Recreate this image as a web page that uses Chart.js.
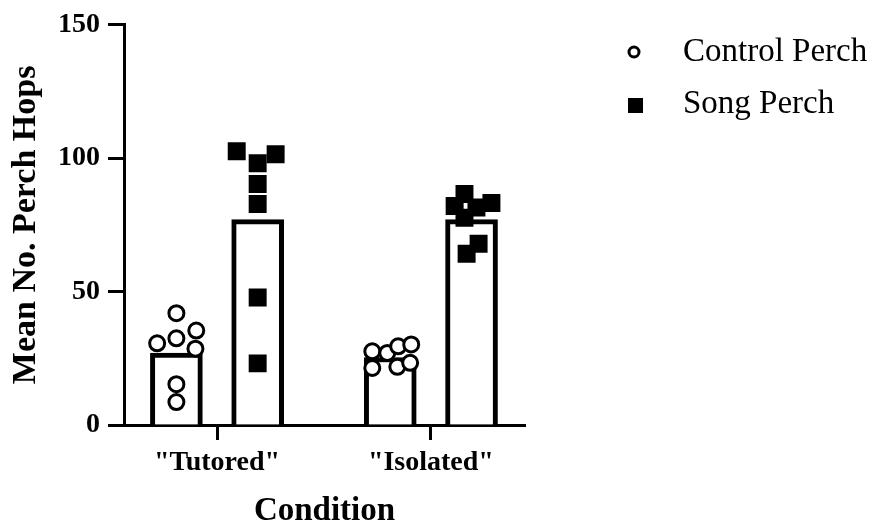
<!DOCTYPE html>
<html>
<head>
<meta charset="utf-8">
<title>Perch Hops</title>
<script src="https://cdn.jsdelivr.net/npm/chart.js@4.4.1/dist/chart.umd.min.js"></script>
<style>
  html, body { margin: 0; padding: 0; background: #fff; }
  #wrap { width: 880px; height: 523px; }
</style>
</head>
<body>
<div id="wrap"><canvas id="grafico"></canvas></div>
<script>
const categories = ['"Tutored"', '"Isolated"'];
const seriesNames = ["Control Perch", "Song Perch"];
const yTicks = [0, 50, 100, 150];

// alturas de las barras (medias)
const controlMeans = [27, 25.3];
const songMeans = [77, 77];

// valores individuales
const tutoredControl = [41.9, 30.6, 32.5, 35.4, 28.6, 15.3, 8.6];
const tutoredSong = [102.6, 98.1, 101.5, 90.3, 82.8, 47.8, 23.1];
const isolatedControl = [27.6, 27.0, 29.5, 30.2, 21.4, 21.8, 23.3];
const isolatedSong = [86.6, 82.1, 81.5, 83.2, 77.7, 67.9, 64.2];

// desplazamiento horizontal de cada punto (unidades de categoria)
const tutoredControlJitter = [0, -0.09, 0, 0.093, 0.089, 0, 0];
const tutoredSongJitter = [-0.098, 0, 0.084, 0, 0, 0, 0];
const isolatedControlJitter = [-0.084, -0.014, 0.037, 0.098, -0.084, 0.033, 0.093];
const isolatedSongJitter = [-0.033, -0.079, 0.023, 0.093, -0.033, 0.033, -0.023];

const fuente = "'Liberation Serif', 'Times New Roman', serif";
const lado = { control: -0.19, song: 0.19 };

function barras(medias, desp) {
  return medias.map((v, i) => ({ x: i + 1 + desp, y: v }));
}

function puntos(valores, jitter, grupo, desp) {
  return valores.map((v, i) => ({ x: grupo + 1 + desp + jitter[i], y: v }));
}

// leyenda dibujada a mano a la derecha
const leyendaPlugin = {
  id: "leyendaPerch",
  afterDraw(chart) {
    const ctx = chart.ctx;
    ctx.save();
    ctx.font = "33px " + fuente;
    ctx.fillStyle = "#000";
    ctx.strokeStyle = "#000";
    ctx.textBaseline = "alphabetic";

    // circulo abierto
    ctx.lineWidth = 3;
    ctx.beginPath();
    ctx.arc(634, 52, 5, 0, Math.PI * 2);
    ctx.stroke();
    ctx.fillText(seriesNames[0], 683, 61);

    // cuadrado lleno
    ctx.fillRect(628, 98, 15, 15);
    ctx.fillText(seriesNames[1], 683, 113);
    ctx.restore();
  },
};

const ctx = document.getElementById("grafico").getContext("2d");
const grafico = new Chart(ctx, {
  data: {
    datasets: [
      {
        type: "scatter",
        label: seriesNames[0],
        data: puntos(tutoredControl, tutoredControlJitter, 0, lado.control).concat(
          puntos(isolatedControl, isolatedControlJitter, 1, lado.control)
        ),
        pointStyle: "circle",
        pointRadius: 7.5,
        pointBorderWidth: 3,
        pointBackgroundColor: "#fff",
        pointBorderColor: "#000",
        order: 0,
      },
      {
        type: "scatter",
        label: seriesNames[1],
        data: puntos(tutoredSong, tutoredSongJitter, 0, lado.song).concat(
          puntos(isolatedSong, isolatedSongJitter, 1, lado.song)
        ),
        pointStyle: "rect",
        pointRadius: 12.7,
        pointBorderWidth: 0,
        pointBackgroundColor: "#000",
        pointBorderColor: "#000",
        order: 0,
      },
      {
        type: "bar",
        label: "Control mean",
        data: barras(controlMeans, lado.control),
        backgroundColor: "#fff",
        borderColor: "#000",
        borderWidth: 5,
        barThickness: 52,
        grouped: false,
        order: 1,
      },
      {
        type: "bar",
        label: "Song mean",
        data: barras(songMeans, lado.song),
        backgroundColor: "#fff",
        borderColor: "#000",
        borderWidth: 5,
        barThickness: 52,
        grouped: false,
        order: 1,
      },
    ],
  },
  options: {
    responsive: true,
    maintainAspectRatio: false,
    animation: false,
    events: [],
    layout: {
      padding: { top: 23, right: 355, bottom: 0, left: 0 },
    },
    scales: {
      x: {
        type: "linear",
        min: 0.565,
        max: 2.44,
        offset: false,
        afterBuildTicks: (scale) => {
          scale.ticks = categories.map((c, i) => ({ value: i + 1 }));
        },
        afterFit: (scale) => {
          scale.height = 98;
        },
        ticks: {
          callback: (value, index) => categories[index],
          color: "#000",
          font: { family: fuente, size: 28, weight: "bold" },
          padding: 6,
          maxRotation: 0,
        },
        grid: {
          offset: false,
          drawOnChartArea: false,
          drawTicks: true,
          tickLength: 15,
          tickWidth: 3,
          tickColor: "#000",
        },
        border: { display: true, color: "#000", width: 3 },
        title: {
          display: true,
          text: "Condition",
          color: "#000",
          font: { family: fuente, size: 33, weight: "bold", lineHeight: 1 },
          padding: { top: 0, bottom: -5 },
        },
      },
      y: {
        min: 0,
        max: 150,
        afterBuildTicks: (scale) => {
          scale.ticks = yTicks.map((v) => ({ value: v }));
        },
        afterFit: (scale) => {
          scale.width = 124;
        },
        ticks: {
          color: "#000",
          font: { family: fuente, size: 28, weight: "bold" },
          padding: 8,
        },
        grid: {
          drawOnChartArea: false,
          drawTicks: true,
          tickLength: 16,
          tickWidth: 3,
          tickColor: "#000",
        },
        border: { display: true, color: "#000", width: 3 },
        title: {
          display: true,
          text: "Mean No. Perch Hops",
          color: "#000",
          font: { family: fuente, size: 34, weight: "bold", lineHeight: 1 },
          padding: { top: 9, bottom: 0 },
        },
      },
    },
    plugins: {
      legend: { display: false },
      tooltip: { enabled: false },
    },
  },
  plugins: [leyendaPlugin],
});
</script>
</body>
</html>
